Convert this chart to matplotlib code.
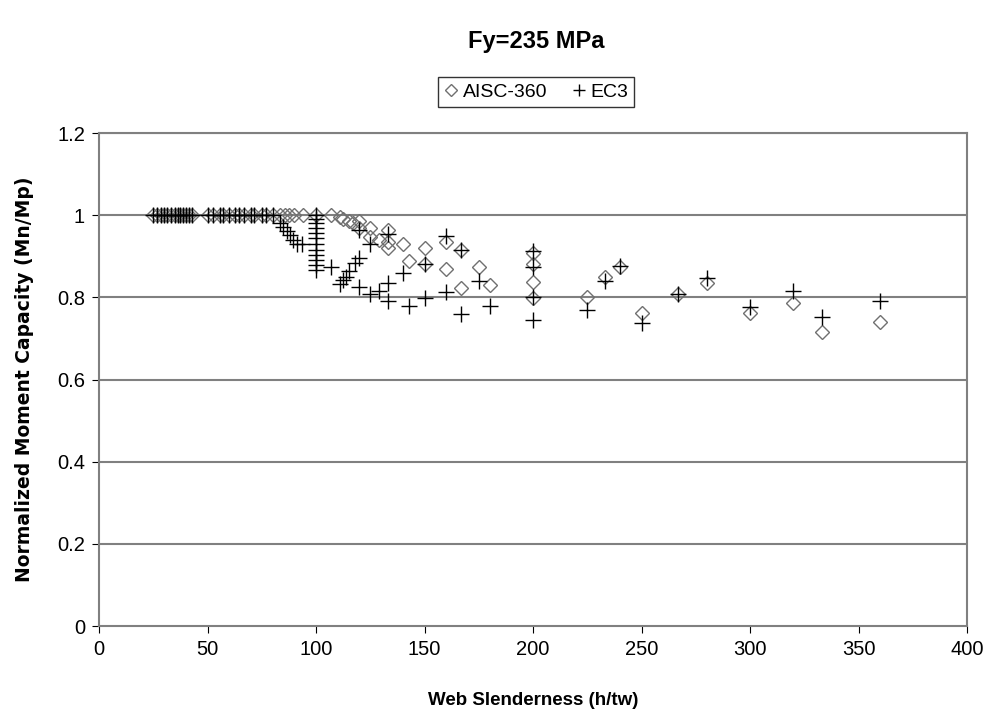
import numpy as np
import matplotlib.pyplot as plt

plt.rcParams['font.family'] = ['Liberation Sans', 'DejaVu Sans']

# AISC-360 Punkte (h/tw, Mn/Mp)
aisc_x = [25, 26.7, 28.6, 30, 31.3, 33.3, 35, 36.4, 37.5, 38.5, 40, 41.7, 43,
          50, 52.6, 55.6, 57.1, 60, 62.5, 64.3, 66.7, 70, 71.4, 75, 76.9,
          80, 83.3, 85.7, 87.5, 90, 94, 100, 107,
          111, 112.5, 115, 117, 120, 120, 125, 133.3, 125, 129, 133.3, 133.3,
          140, 150, 160, 166.7, 142.9, 150, 160, 175, 166.7, 180,
          200, 200, 200, 200, 225, 233.3, 240, 250, 266.7, 280, 300, 320, 333.3, 360]
aisc_y = [1.0] * 33 + [
          0.995, 0.99, 0.985, 0.98, 0.985, 0.97, 0.97, 0.965, 0.946, 0.94, 0.935, 0.92,
          0.93, 0.92, 0.935, 0.915, 0.888, 0.88, 0.87, 0.874, 0.822, 0.83,
          0.907, 0.88, 0.837, 0.798, 0.80, 0.85, 0.875, 0.762, 0.808, 0.835, 0.763, 0.787, 0.716, 0.74]

# EC3 Punkte
ec3_x = [25, 26.7, 28.6, 30, 31.3, 33.3, 35, 36.4, 37.5, 38.5, 40, 41.7, 43,
         50, 52.6, 55.6, 57.1, 60, 62.5, 64.3, 66.7, 70, 71.4, 75, 76.9, 80,
         83.4, 84.8, 86.6, 88, 89.4, 91.2, 93.5,
         100, 100, 100, 100, 100, 100, 100, 100, 100, 100, 100, 100,
         107, 111, 112.5, 113.6, 115, 118, 120, 120, 125, 129, 133.3, 133.3,
         140, 142.9, 150, 160, 166.7, 175, 180, 133.3, 125, 160, 166.7, 120, 150,
         200, 200, 200, 200, 225, 233.3, 240, 250, 266.7, 280, 300, 320, 333.3, 360]
ec3_y = [1.0] * 26 + [
         0.981, 0.971, 0.961, 0.951, 0.939, 0.929, 0.929,
         1.0, 0.99, 0.98, 0.969, 0.957, 0.945, 0.93, 0.915, 0.903, 0.891, 0.879, 0.867,
         0.874, 0.833, 0.842, 0.85, 0.864, 0.883, 0.895, 0.825, 0.808, 0.815, 0.836, 0.79,
         0.86, 0.78, 0.798, 0.813, 0.76, 0.84, 0.779, 0.953, 0.93, 0.95, 0.915, 0.965, 0.88,
         0.913, 0.873, 0.80, 0.745, 0.77, 0.84, 0.877, 0.738, 0.808, 0.847, 0.777, 0.816, 0.752, 0.792]

x_ticks = [0, 50, 100, 150, 200, 250, 300, 350, 400]
y_ticks = [0, 0.2, 0.4, 0.6, 0.8, 1, 1.2]
y_ticklabels = ['0', '0.2', '0.4', '0.6', '0.8', '1', '1.2']

fig = plt.figure(figsize=(9.96, 7.19), dpi=100)
ax = fig.add_axes([0.0994, 0.1293, 0.8715, 0.6857])

ax.plot(aisc_x, aisc_y, linestyle='none', marker='D', markersize=7.5,
        markerfacecolor='none', markeredgecolor='#707070', markeredgewidth=1.0,
        label='AISC-360')
ax.plot(ec3_x, ec3_y, linestyle='none', marker='+', markersize=11,
        color='black', markeredgewidth=1.0, label='EC3')

ax.set_xlim(0, 400)
ax.set_ylim(0, 1.2)
ax.set_xticks(x_ticks)
ax.set_yticks(y_ticks)
ax.set_yticklabels(y_ticklabels)
ax.tick_params(labelsize=14.5, direction='out', length=5, color='black', pad=5)

# horizontale Gitterlinien
for yv in y_ticks[1:]:
    ax.axhline(yv, color='#808080', linewidth=1.5, zorder=0)
for s in ax.spines.values():
    s.set_color('#808080')
    s.set_linewidth(1.5)

ax.set_xlabel('Web Slenderness (h/tw)', fontsize=13.5, fontweight='bold', labelpad=24)
ax.set_ylabel('Normalized Moment Capacity (Mn/Mp)', fontsize=13.5, fontweight='bold',
              family='DejaVu Sans', labelpad=17)

fig.text(0.538, 0.942, 'Fy=235 MPa', fontsize=17, fontweight='bold', ha='center', va='center')

leg = fig.legend(loc='center', bbox_to_anchor=(0.538, 0.872), ncol=2, fontsize=14,
                 frameon=True, fancybox=False, edgecolor='black', handlelength=0.8,
                 handletextpad=0.2, columnspacing=1.2, borderpad=0.3, markerscale=0.8)
leg.get_frame().set_linewidth(1.0)

plt.savefig('out.png', dpi=100)
